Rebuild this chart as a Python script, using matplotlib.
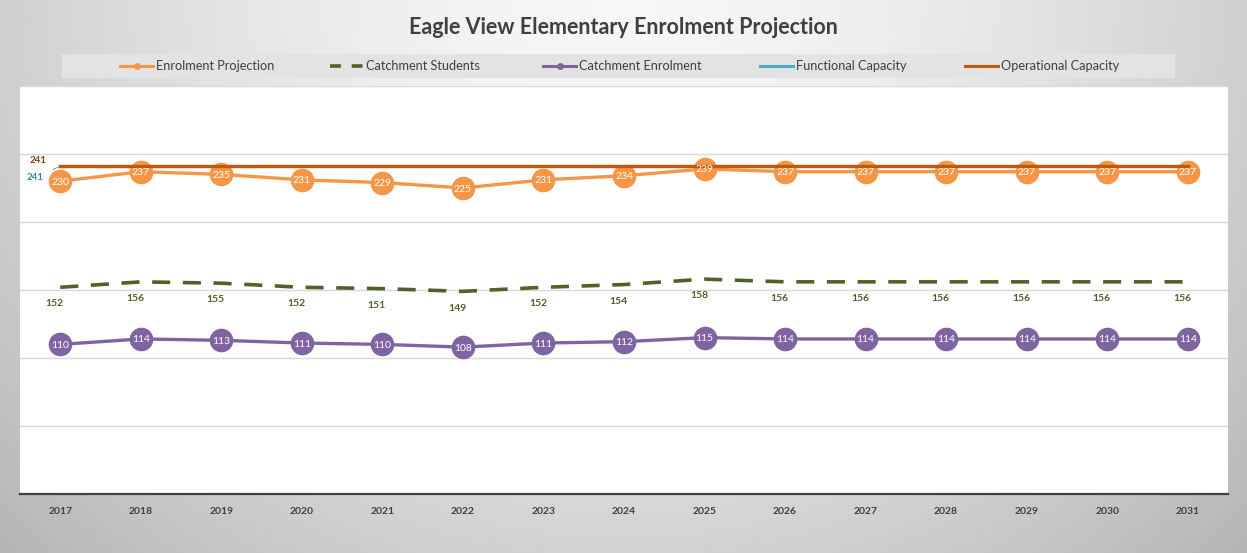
import numpy as np
import matplotlib
matplotlib.use("Agg")
import matplotlib.pyplot as plt
from matplotlib.lines import Line2D
from matplotlib.patches import Rectangle

plt.rcParams['font.family'] = ['Lato', 'DejaVu Sans']

years = ["2017", "2018", "2019", "2020", "2021", "2022", "2023", "2024",
         "2025", "2026", "2027", "2028", "2029", "2030", "2031"]
enrolment_projection = [230, 237, 235, 231, 229, 225, 231, 234, 239, 237, 237, 237, 237, 237, 237]
catchment_students = [152, 156, 155, 152, 151, 149, 152, 154, 158, 156, 156, 156, 156, 156, 156]
catchment_enrolment = [110, 114, 113, 111, 110, 108, 111, 112, 115, 114, 114, 114, 114, 114, 114]
functional_capacity = [241] * 15
operational_capacity = [241] * 15

C_ORANGE = "#F79646"
C_OLIVE = "#4F6228"
C_PURPLE = "#8064A2"
C_CYAN = "#4BACC6"
C_BROWN = "#C0580E"

W, H = 1247, 553
fig = plt.figure(figsize=(W / 100, H / 100), dpi=100)

# background gradient
bg = fig.add_axes([0, 0, 1, 1], zorder=-10)
yy, xx = np.mgrid[0:1:200j, 0:1:400j]
d = np.sqrt(((xx - 0.5) / 0.62) ** 2 + ((yy - 0.0) / 1.3) ** 2)
val = 0.97 - 0.22 * np.clip(d, 0, 1.2) ** 1.6
bg.imshow(np.dstack([val, val, val]), extent=[0, 1, 0, 1], aspect='auto', origin='upper',
          vmin=0, vmax=1)
bg.set_xlim(0, 1); bg.set_ylim(0, 1)
bg.axis('off')

ax = fig.add_axes([20 / W, 1 - 494 / H, 1208 / W, 408 / H])
ax.set_facecolor("white")
x = np.arange(len(years))

ax.set_xlim(-0.5, len(years) - 0.5)
ax.set_ylim(0, 300)
ax.set_yticks([0, 50, 100, 150, 200, 250, 300])
ax.yaxis.grid(True, color="#d9d9d9", lw=1)
ax.set_axisbelow(True)
ax.tick_params(axis='y', left=False, labelleft=False)
ax.tick_params(axis='x', length=0, pad=9, labelsize=7.5, labelcolor="#404040")
ax.set_xticks(x)
ax.set_xticklabels(years, fontweight='bold')
for s in ["top", "left", "right"]:
    ax.spines[s].set_visible(False)
ax.spines["bottom"].set_color("#404040")
ax.spines["bottom"].set_linewidth(1.6)

ax.plot(x, functional_capacity, color=C_CYAN, lw=2.2, zorder=3)
ax.plot(x, operational_capacity, color=C_BROWN, lw=2.4, zorder=4)
ax.plot(x, enrolment_projection, color=C_ORANGE, lw=2.4, marker='o', ms=16,
        mec=C_ORANGE, zorder=3)
ax.plot(x, catchment_students, color=C_OLIVE, lw=2.6, ls=(0, (5, 3.5)), zorder=3)
ax.plot(x, catchment_enrolment, color=C_PURPLE, lw=2.4, marker='o', ms=16,
        mec=C_PURPLE, zorder=3)

for xi, v in zip(x, enrolment_projection):
    ax.text(xi, v, str(v), color="white", fontsize=7.5, ha='center', va='center_baseline', zorder=6)
for xi, v in zip(x, catchment_enrolment):
    ax.text(xi, v, str(v), color="white", fontsize=7.5, ha='center', va='center_baseline', zorder=6)
for xi, v in zip(x, catchment_students):
    ax.annotate(str(v), (xi, v), xytext=(-4, -12), textcoords='offset points',
                color=C_OLIVE, fontsize=7.5, fontweight='bold', ha='center', va='center')

# capacity labels at left
ax.annotate(str(operational_capacity[0]), (x[0], operational_capacity[0]), xytext=(-16, 4),
            textcoords='offset points', color="#7B3F12", fontsize=7, fontweight='bold',
            ha='center', va='center')
ax.annotate(str(functional_capacity[0]), (x[0], functional_capacity[0]), xytext=(-18, -8),
            textcoords='offset points', color="#31859C", fontsize=7, fontweight='bold',
            ha='center', va='center',
            arrowprops=dict(arrowstyle='-', color="#808080", lw=0.6, shrinkA=5, shrinkB=0))

# title
fig.text(0.5, 1 - 28 / H, "Eagle View Elementary Enrolment Projection", ha='center', va='center',
         fontsize=15.5, fontweight='bold', color="#404040")

# legend
fig.patches.append(Rectangle((62 / W, 1 - 78 / H), (1175 - 62) / W, 24 / H,
                             transform=fig.transFigure, facecolor="#e3e3e3",
                             edgecolor='none', zorder=1))
ly = 1 - 66 / H
entries = [
    ("Enrolment Projection", dict(color=C_ORANGE, lw=2.2, marker='o', ms=4), 120),
    ("Catchment Students", dict(color=C_OLIVE, lw=2.6, ls=(0, (3, 3))), 330),
    ("Catchment Enrolment", dict(color=C_PURPLE, lw=2.2, marker='o', ms=4), 543),
    ("Functional Capacity", dict(color=C_CYAN, lw=2.2), 760),
    ("Operational Capacity", dict(color=C_BROWN, lw=2.2), 965),
]
for label, style, x0 in entries:
    xs = [x0 / W, (x0 + 33) / W]
    if 'marker' in style:
        fig.add_artist(Line2D(xs, [ly, ly], transform=fig.transFigure,
                              **{k: v for k, v in style.items() if k not in ('marker', 'ms')}))
        fig.add_artist(Line2D([np.mean(xs)], [ly], transform=fig.transFigure, ls='none',
                              marker='o', ms=4, color=style['color']))
    else:
        fig.add_artist(Line2D(xs, [ly, ly], transform=fig.transFigure, **style))
    fig.text((x0 + 36) / W, ly, label, ha='left', va='center', fontsize=9.2, color="#404040")

fig.savefig("out.png", dpi=100)
